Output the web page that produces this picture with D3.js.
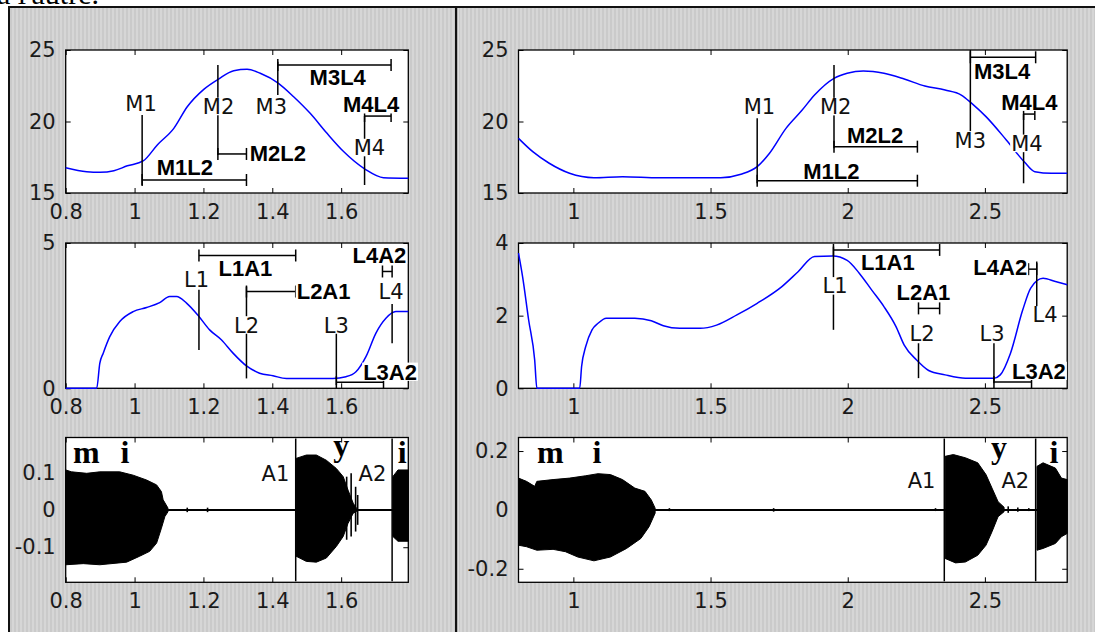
<!DOCTYPE html>
<html>
<head>
<meta charset="utf-8">
<script src="https://cdn.jsdelivr.net/npm/d3@7"></script>
<style>
body { margin: 0; background: #fff; overflow: hidden; }
svg { display: block; }
.tick text { font-family: 'DejaVu Sans', sans-serif; font-size: 21px; fill: #1a1a1a; }
.tick line { stroke: #000; }
.mark-label { font-family: 'DejaVu Sans', sans-serif; font-size: 21px; fill: #111; }
.bar-label { font-family: 'Liberation Sans', Arial, sans-serif; font-weight: bold; font-size: 22px; fill: #000; }
.phone { font-family: 'Liberation Serif', 'Times New Roman', serif; font-weight: bold; font-size: 32px; fill: #000; }
.caption { font-family: 'Liberation Serif', serif; font-size: 30px; fill: #000; }
</style>
</head>
<body>
<svg></svg>
<script>
// ---- tick values ----
const xTicksLeft = [0.8, 1, 1.2, 1.4, 1.6]
const xTicksRight = [1, 1.5, 2, 2.5]
const yTicksTop = [15, 20, 25]
const yTicksMidLeft = [0, 5]
const yTicksMidRight = [0, 2, 4]
const yTicksBotLeft = [-0.1, 0, 0.1]
const yTicksBotRight = [-0.2, 0, 0.2]

// ---- top row curves [time, value] ----
const topCurveLeft = [[0.8,16.77],[0.861,16.49],[0.90,16.45],[0.94,16.56],[0.979,16.9],[1.025,17.24],[1.066,18.36],
  [1.114,19.52],[1.153,21.03],[1.201,22.25],[1.244,22.97],[1.288,23.55],[1.327,23.65],[1.365,23.37],[1.418,22.67],
  [1.462,21.73],[1.51,20.57],[1.559,19.17],[1.607,17.9],[1.67,16.66],[1.723,16.07],[1.795,16.03]]
const topCurveRight = [[0.8,18.82],[0.852,17.89],[0.912,17.08],[0.986,16.38],[1.075,16.07],[1.179,16.14],[1.313,16.07],
  [1.537,16.07],[1.611,16.31],[1.67,16.84],[1.715,17.78],[1.775,19.52],[1.834,20.8],[1.879,21.85],[1.95,23.02],
  [1.998,23.37],[2.057,23.53],[2.132,23.37],[2.206,22.97],[2.281,22.48],[2.355,22.2],[2.414,21.85],[2.452,21.27],
  [2.504,20.34],[2.578,18.71],[2.645,17.15],[2.682,16.49],[2.742,16.38],[2.8,16.38]]

// ---- middle row curves ----
const midCurveLeft = [[0.8,0],[0.89,0],[0.899,0.86],[0.909,1.21],[0.928,1.78],[0.957,2.3],[0.996,2.64],[1.035,2.78],
  [1.073,2.95],[1.102,3.16],[1.122,3.16],[1.151,2.93],[1.187,2.47],[1.218,2.01],[1.252,1.67],[1.286,1.21],[1.325,0.77],
  [1.363,0.52],[1.402,0.43],[1.441,0.34],[1.576,0.34],[1.614,0.4],[1.643,0.57],[1.672,1.09],[1.701,1.9],[1.73,2.41],
  [1.759,2.64],[1.795,2.64]]
const midCurveRight = [[0.8,3.72],[0.815,3.07],[0.837,1.88],[0.859,0.78],[0.867,0],[1.023,0],[1.03,0.6],[1.045,1.15],
  [1.068,1.61],[1.09,1.79],[1.12,1.93],[1.224,1.93],[1.284,1.86],[1.328,1.72],[1.388,1.65],[1.462,1.65],[1.522,1.74],
  [1.596,2.02],[1.67,2.34],[1.76,2.8],[1.819,3.21],[1.879,3.63],[1.945,3.64],[1.998,3.52],[2.042,3.17],[2.087,2.71],
  [2.132,2.25],[2.176,1.7],[2.206,1.19],[2.251,0.78],[2.295,0.49],[2.355,0.37],[2.429,0.28],[2.533,0.28],[2.556,0.37],
  [2.593,0.96],[2.638,2.16],[2.667,2.76],[2.712,3.03],[2.757,2.94],[2.8,2.85]]

// ---- markers: vertical line (x, from, to) + label at (lx, ly) ----
const topMarksLeft = [
  {name:'M1', x:1.022, from:20.45, to:15.56, lx:1.019, ly:21.26},
  {name:'M2', x:1.242, from:23.95, to:17.66, lx:1.244, ly:21.05},
  {name:'M3', x:1.416, from:24.18, to:21.85, lx:1.397, ly:21.08},
  {name:'M4', x:1.668, from:20.38, to:15.56, lx:1.682, ly:18.18}]
const topBarsLeft = [
  {name:'M1L2', x1:1.022, x2:1.325, y:15.91, lx:1.146, ly:16.84},
  {name:'M2L2', x1:1.242, x2:1.325, y:17.73, lx:1.416, ly:17.78},
  {name:'M3L4', x1:1.416, x2:1.745, y:23.95, lx:1.59, ly:23.09},
  {name:'M4L4', x1:1.668, x2:1.745, y:20.38, lx:1.687, ly:21.2}]
const topMarksRight = [
  {name:'M1', x:1.67, from:20.22, to:15.68, lx:1.678, ly:21.08},
  {name:'M2', x:1.95, from:23.95, to:18.13, lx:1.956, ly:21.04},
  {name:'M3', x:2.447, from:25, to:19.3, lx:2.447, ly:18.71},
  {name:'M4', x:2.641, from:20.52, to:15.68, lx:2.653, ly:18.47}]
const topBarsRight = [
  {name:'M1L2', x1:1.67, x2:2.254, y:15.86, lx:1.94, ly:16.55},
  {name:'M2L2', x1:1.95, x2:2.254, y:18.24, lx:2.1, ly:19.02},
  {name:'M3L4', x1:2.447, x2:2.685, y:24.49, lx:2.563, ly:23.55},
  {name:'M4L4', x1:2.641, x2:2.682, y:20.52, lx:2.662, ly:21.38}]

const midMarksLeft = [
  {name:'L1', x:1.187, from:3.39, to:1.32, lx:1.18, ly:3.73},
  {name:'L2', x:1.325, from:3.5, to:0.34, lx:1.325, ly:2.18},
  {name:'L3', x:1.586, from:1.9, to:0.11, lx:1.586, ly:2.18},
  {name:'L4', x:1.748, from:2.9, to:1.55, lx:1.745, ly:3.33}]
const midBarsLeft = [
  {name:'L1A1', x1:1.187, x2:1.468, y:4.57, lx:1.322, ly:4.14},
  {name:'L2A1', x1:1.325, x2:1.468, y:3.33, lx:1.549, ly:3.33},
  {name:'L3A2', x1:1.586, x2:1.723, y:0.21, lx:1.742, ly:0.57},
  {name:'L4A2', x1:1.72, x2:1.748, y:4.02, lx:1.711, ly:4.6}]
const midMarksRight = [
  {name:'L1', x:1.948, from:3.9, to:1.61, lx:1.954, ly:2.82},
  {name:'L2', x:2.258, from:1.24, to:0.28, lx:2.271, ly:1.52},
  {name:'L3', x:2.533, from:1.24, to:0.14, lx:2.526, ly:1.52},
  {name:'L4', x:2.689, from:3.49, to:2.16, lx:2.719, ly:2.02}]
const midBarsRight = [
  {name:'L1A1', x1:1.948, x2:2.335, y:3.81, lx:2.146, ly:3.47},
  {name:'L2A1', x1:2.258, x2:2.335, y:2.2, lx:2.276, ly:2.64},
  {name:'L3A2', x1:2.533, x2:2.67, y:0.17, lx:2.697, ly:0.48},
  {name:'L4A2', x1:2.659, x2:2.689, y:3.28, lx:2.556, ly:3.35}]

// ---- bottom row: waveform envelopes [time, amplitude] ----
const waveLeft = [
  {top:[[0.8,0.107],[0.817,0.102],[0.861,0.098],[0.899,0.102],[0.957,0.102],[0.996,0.093],[1.035,0.08],[1.064,0.067],
        [1.078,0.049],[1.083,0.027],[1.097,0.005]],
   bottom:[[0.8,-0.147],[0.851,-0.144],[0.899,-0.147],[0.977,-0.14],[1.015,-0.124],[1.044,-0.111],[1.064,-0.089],
        [1.078,-0.049],[1.088,-0.018],[1.097,-0.005]]},
  {top:[[1.469,0.138],[1.499,0.147],[1.528,0.147],[1.557,0.133],[1.586,0.111],[1.606,0.089],[1.62,0.053],[1.635,0.018],[1.645,0.004]],
   bottom:[[1.469,-0.124],[1.499,-0.138],[1.528,-0.14],[1.557,-0.129],[1.586,-0.098],[1.606,-0.071],[1.62,-0.036],[1.635,-0.009],[1.645,-0.004]]},
  {top:[[1.75,0.089],[1.765,0.107],[1.795,0.107]],
   bottom:[[1.75,-0.071],[1.765,-0.084],[1.795,-0.084]]}]
const waveRight = [
  {top:[[0.8,0.108],[0.829,0.097],[0.859,0.08],[0.867,0.097],[0.926,0.103],[0.986,0.108],[1.045,0.116],[1.09,0.123],
        [1.135,0.12],[1.179,0.103],[1.224,0.074],[1.261,0.063],[1.284,0.034],[1.298,0.006]],
   bottom:[[0.8,-0.12],[0.829,-0.125],[0.867,-0.137],[0.926,-0.134],[0.971,-0.142],[1.016,-0.16],[1.075,-0.173],
        [1.135,-0.16],[1.194,-0.131],[1.246,-0.097],[1.276,-0.057],[1.298,-0.011]]},
  {top:[[2.355,0.182],[2.385,0.188],[2.429,0.177],[2.474,0.16],[2.504,0.12],[2.526,0.074],[2.548,0.028],[2.57,0.009]],
   bottom:[[2.355,-0.165],[2.393,-0.18],[2.429,-0.177],[2.474,-0.154],[2.504,-0.12],[2.526,-0.074],[2.548,-0.023],[2.57,-0.006]]},
  {top:[[2.69,0.148],[2.712,0.16],[2.757,0.142],[2.779,0.108],[2.8,0.103]],
   bottom:[[2.69,-0.137],[2.712,-0.131],[2.757,-0.114],[2.779,-0.091],[2.8,-0.08]]}]
// isolated spikes [time, top, bottom]
const spikesLeft = [[1.153,0.006,-0.006],[1.212,0.006,-0.006],[1.616,0.089,-0.08],[1.629,0.098,-0.071],[1.642,0.062,-0.058],[1.648,0.04,-0.04]]
const spikesRight = [[1.35,0.006,-0.004],[1.73,0.006,-0.006],[2.32,0.006,-0.004],[2.585,0.012,-0.01],[2.62,0.008,-0.006],[2.66,0.006,-0.004]]
const aMarksLeft = [{name:'A1', x:1.468, lx:1.409, ly:0.098}, {name:'A2', x:1.748, lx:1.691, ly:0.098}]
const aMarksRight = [{name:'A1', x:2.352, lx:2.269, ly:0.1}, {name:'A2', x:2.685, lx:2.611, ly:0.1}]
const phonesLeft = [{t:'m', x:0.821, y:0.125, anchor:'start'}, {t:'i', x:0.972, y:0.125, anchor:'middle'},
  {t:'y', x:1.6, y:0.144, anchor:'middle'}, {t:'i', x:1.777, y:0.125, anchor:'middle'}]
const phonesRight = [{t:'m', x:0.867, y:0.16, anchor:'start'}, {t:'i', x:1.086, y:0.16, anchor:'middle'},
  {t:'y', x:2.551, y:0.178, anchor:'middle'}, {t:'i', x:2.752, y:0.16, anchor:'middle'}]

// ---- layout ----
const w = 1095
const h = 632
const colPx = [[65.7, 408.3], [518.5, 1067.2]]
const rowPx = [[50, 193], [243, 388.3], [437.5, 582.3]]
const xDomains = [[0.8, 1.795], [0.8, 2.8]]

let svg = d3.select('svg').attr('width', w).attr('height', h)

let defs = svg.append('defs')
let pat = defs.append('pattern').attr('id', 'grain').attr('width', 4).attr('height', 4)
              .attr('patternUnits', 'userSpaceOnUse')
pat.append('rect').attr('width', 4).attr('height', 4).attr('fill', '#cacaca')
pat.append('rect').attr('width', 2).attr('height', 4).attr('fill', '#d6d6d6')

svg.append('text').attr('class', 'caption').attr('x', -3).attr('y', 4).text("a l'autre.")

// grey figure background and frame
svg.append('rect').attr('x', 10).attr('y', 8).attr('width', w - 10).attr('height', h - 8).attr('fill', 'url(#grain)')
svg.append('rect').attr('x', 8).attr('y', 6).attr('width', w - 8).attr('height', 2).attr('fill', '#111')
svg.append('rect').attr('x', 8).attr('y', 6).attr('width', 2).attr('height', h - 6).attr('fill', '#111')
svg.append('rect').attr('x', 455).attr('y', 8).attr('width', 2.5).attr('height', h - 8).attr('fill', '#111')
svg.append('rect').attr('x', 457.5).attr('y', 8).attr('width', 1).attr('height', h - 8).attr('fill', '#eee')

let addLabel = (g, text, px, py, cls, fs) => {
    let t = g.append('text').attr('class', cls)
             .attr('x', px).attr('y', py + 0.36 * fs)
             .attr('text-anchor', 'middle')
             .text(text)
    let tw = t.node().getComputedTextLength()
    g.insert('rect', () => t.node())
     .attr('x', px - tw / 2 - 1).attr('y', py - 0.37 * fs - 1)
     .attr('width', tw + 2).attr('height', 0.74 * fs + 2)
     .attr('fill', '#fff')
}

let drawPanel = (p) => {
    let [x0, x1] = colPx[p.col]
    let [y0, y1] = rowPx[p.row]
    let xScale = d3.scaleLinear().domain(xDomains[p.col]).range([x0, x1])
    let yScale = d3.scaleLinear().domain(p.yDomain).range([y1, y0])
    let g = svg.append('g')

    g.append('rect').attr('x', x0).attr('y', y0).attr('width', x1 - x0).attr('height', y1 - y0).attr('fill', '#fff')

    g.append('g').attr('transform', 'translate(0,' + y1 + ')')
     .call(d3.axisBottom(xScale).tickValues(p.xTicks).tickSizeInner(-5).tickSizeOuter(0).tickPadding(11).tickFormat(d => String(d)))
     .call(a => a.select('.domain').remove())
    g.append('g').attr('transform', 'translate(0,' + y0 + ')')
     .call(d3.axisTop(xScale).tickValues(p.xTicks).tickSizeInner(-5).tickSizeOuter(0).tickFormat(''))
     .call(a => a.select('.domain').remove())
    g.append('g').attr('transform', 'translate(' + x0 + ',0)')
     .call(d3.axisLeft(yScale).tickValues(p.yTicks).tickSizeInner(-5).tickSizeOuter(0).tickPadding(10).tickFormat(d => String(d)))
     .call(a => a.select('.domain').remove())
    g.append('g').attr('transform', 'translate(' + x1 + ',0)')
     .call(d3.axisRight(yScale).tickValues(p.yTicks).tickSizeInner(-5).tickSizeOuter(0).tickFormat(''))
     .call(a => a.select('.domain').remove())

    g.append('rect').attr('x', x0).attr('y', y0).attr('width', x1 - x0).attr('height', y1 - y0)
     .attr('fill', 'none').attr('stroke', '#000').attr('stroke-width', 1.3)

    if (p.curve) {
        let line = d3.line().x(d => xScale(d[0])).y(d => yScale(d[1])).curve(d3.curveMonotoneX)
        g.append('path').datum(p.curve).attr('d', line)
         .attr('fill', 'none').attr('stroke', '#0000ff').attr('stroke-width', 1.5)
    }

    if (p.wave) {
        g.append('line').attr('x1', x0).attr('x2', x1).attr('y1', yScale(0)).attr('y2', yScale(0))
         .attr('stroke', '#000').attr('stroke-width', 2)
        let poly = d3.line().x(d => xScale(d[0])).y(d => yScale(d[1]))
        p.wave.forEach(seg => {
            g.append('path').attr('d', poly(seg.top.concat(seg.bottom.slice().reverse())) + 'Z')
             .attr('fill', '#000').attr('stroke', '#000').attr('stroke-width', 1)
        })
        g.selectAll(null).data(p.spikes).enter().append('line')
         .attr('x1', d => xScale(d[0])).attr('x2', d => xScale(d[0]))
         .attr('y1', d => yScale(d[1])).attr('y2', d => yScale(d[2]))
         .attr('stroke', '#000').attr('stroke-width', 1.6)
        g.selectAll(null).data(p.aMarks).enter().append('line')
         .attr('x1', d => xScale(d.x)).attr('x2', d => xScale(d.x))
         .attr('y1', y0 + 1).attr('y2', y1 - 1)
         .attr('stroke', '#000').attr('stroke-width', 1.5)
        p.aMarks.forEach(d => addLabel(g, d.name, xScale(d.lx), yScale(d.ly), 'mark-label', 21))
        g.selectAll(null).data(p.phones).enter().append('text')
         .attr('class', 'phone')
         .attr('x', d => xScale(d.x)).attr('y', d => yScale(d.y))
         .attr('text-anchor', d => d.anchor)
         .text(d => d.t)
    }

    if (p.marks) {
        g.selectAll(null).data(p.marks).enter().append('line')
         .attr('x1', d => xScale(d.x)).attr('x2', d => xScale(d.x))
         .attr('y1', d => yScale(d.from)).attr('y2', d => yScale(d.to))
         .attr('stroke', '#000').attr('stroke-width', 1.5)
        p.bars.forEach(b => {
            let by = yScale(b.y)
            g.append('line').attr('x1', xScale(b.x1)).attr('x2', xScale(b.x2)).attr('y1', by).attr('y2', by)
             .attr('stroke', '#000').attr('stroke-width', 1.5)
            ;[b.x1, b.x2].forEach(bx => {
                g.append('line').attr('x1', xScale(bx)).attr('x2', xScale(bx)).attr('y1', by - 6).attr('y2', by + 6)
                 .attr('stroke', '#000').attr('stroke-width', 1.5)
            })
        })
        p.marks.forEach(d => addLabel(g, d.name, xScale(d.lx), yScale(d.ly), 'mark-label', 21))
        p.bars.forEach(b => addLabel(g, b.name, xScale(b.lx), yScale(b.ly), 'bar-label', 22))
    }
}

drawPanel({col:0, row:0, yDomain:[15, 25], xTicks:xTicksLeft, yTicks:yTicksTop, curve:topCurveLeft, marks:topMarksLeft, bars:topBarsLeft})
drawPanel({col:1, row:0, yDomain:[15, 25], xTicks:xTicksRight, yTicks:yTicksTop, curve:topCurveRight, marks:topMarksRight, bars:topBarsRight})
drawPanel({col:0, row:1, yDomain:[0, 5], xTicks:xTicksLeft, yTicks:yTicksMidLeft, curve:midCurveLeft, marks:midMarksLeft, bars:midBarsLeft})
drawPanel({col:1, row:1, yDomain:[0, 4], xTicks:xTicksRight, yTicks:yTicksMidRight, curve:midCurveRight, marks:midMarksRight, bars:midBarsRight})
drawPanel({col:0, row:2, yDomain:[-0.194, 0.194], xTicks:xTicksLeft, yTicks:yTicksBotLeft, wave:waveLeft, spikes:spikesLeft, aMarks:aMarksLeft, phones:phonesLeft})
drawPanel({col:1, row:2, yDomain:[-0.246, 0.246], xTicks:xTicksRight, yTicks:yTicksBotRight, wave:waveRight, spikes:spikesRight, aMarks:aMarksRight, phones:phonesRight})
</script>
</body>
</html>
